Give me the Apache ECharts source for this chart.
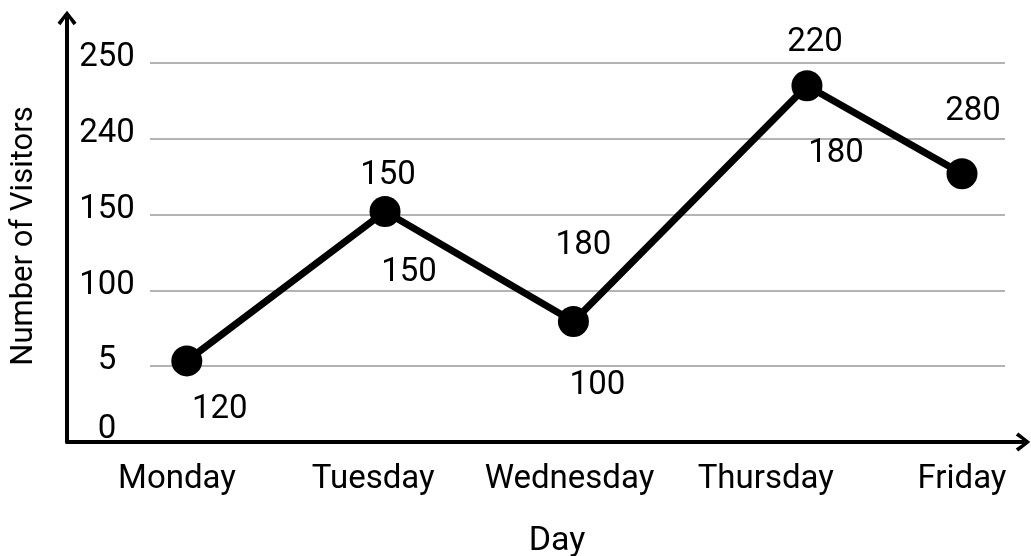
<!DOCTYPE html>
<html><head><meta charset="utf-8">
<script src="https://cdn.jsdelivr.net/npm/echarts@6/dist/echarts.min.js"></script>
<style>html,body{margin:0;padding:0;background:#fff}#c{width:1031px;height:556px}</style>
</head><body><div id="c"></div>
<script>
// ---- data ----
const days = ['Monday', 'Tuesday', 'Wednesday', 'Thursday', 'Friday'];
const yTickLabels = ['0', '5', '100', '150', '240', '250'];
// point positions (x in day-slot units, y in tick-step units)
const pointX = [0.05, 1.06, 2.02, 3.21, 4.0];
const pointY = [1.07, 3.04, 1.59, 4.70, 3.54];
const upperLabels = ['', '150', '180', '220', '280'];
const lowerLabels = ['120', '150', '100', '180', ''];

// ---- layout (pixel offsets of the annotation texts) ----
const upperOffsets = [[0, 0], [3, -36], [10, -76], [8, -43], [11, -62]];
const lowerOffsets = [[33, 49], [24, 61], [24, 64], [29, 68], [0, 0]];

const F = 'Roboto';
const arrow = 'path://M0,12 L9.5,0 L19,12 L16,14.5 L9.5,5 L3,14.5 Z';
const axisLineStyle = {color: '#000', width: 4};

const chart = echarts.init(document.getElementById('c'), null, {renderer: 'canvas'});

const labelSeries = (texts, offsets) => ({
  type: 'scatter', xAxisIndex: 3, yAxisIndex: 2, symbolSize: 1, clip: false, z: 5,
  itemStyle: {color: '#000', opacity: 0},
  data: pointX.map((x, i) => ({value: [x, pointY[i]], label: {offset: offsets[i]}})),
  label: {show: true, position: 'inside', formatter: p => texts[p.dataIndex],
    fontSize: 33, color: '#000', opacity: 1, textBorderWidth: 0, textBorderColor: 'transparent',
    fontFamily: F, align: 'center', verticalAlign: 'middle'},
  emphasis: {disabled: true},
  silent: true
});

chart.setOption({
  animation: false,
  textStyle: {fontFamily: F},
  grid: [
    {left: 67, right: 8, top: 18, bottom: 114},
    {left: 150, right: 26, top: 63, bottom: 114},
    {left: 177, right: 69, top: 63, bottom: 114}
  ],
  xAxis: [
    {gridIndex: 0, type: 'value', min: 0, max: 1,
      axisLine: {show: true, onZero: false, lineStyle: axisLineStyle, symbol: ['none', arrow], symbolSize: [19, 15]},
      axisTick: {show: false}, axisLabel: {show: false}, splitLine: {show: false}},
    {gridIndex: 1, type: 'value', min: 0, max: 1, show: false},
    {gridIndex: 2, type: 'category', data: days, boundaryGap: false,
      axisLine: {show: false}, axisTick: {show: false},
      axisLabel: {fontSize: 33, color: '#000', margin: 21, fontFamily: F, interval: 0}},
    {gridIndex: 2, type: 'value', min: 0, max: 4, show: false, position: 'top'}
  ],
  yAxis: [
    {gridIndex: 0, type: 'value', min: 0, max: 1,
      axisLine: {show: true, onZero: false, lineStyle: axisLineStyle, symbol: ['none', arrow], symbolSize: [19, 15]},
      axisTick: {show: false}, axisLabel: {show: false}, splitLine: {show: false}},
    {gridIndex: 1, type: 'value', min: 0, max: 5, interval: 1,
      axisLine: {show: false}, axisTick: {show: false},
      axisLabel: {formatter: v => {const i = Math.round(v); return i === 0 ? '{z|' + yTickLabels[i] + '}' : yTickLabels[i];},
        align: 'center', margin: 43,
        fontSize: 33, color: '#000', fontFamily: F, padding: [0, 0, 10, 0],
        rich: {z: {fontSize: 33, color: '#000', fontFamily: F, padding: [0, 0, 14, 0]}}},
      splitLine: {show: true, showMinLine: false, lineStyle: {color: '#b3b3b3', width: 2}}},
    {gridIndex: 2, type: 'value', min: 0, max: 5, show: false}
  ],
  graphic: [
    {type: 'text', x: 557, y: 541, style: {text: 'Day', fontSize: 34, fontFamily: F, fill: '#000', align: 'center', verticalAlign: 'middle'}},
    {type: 'text', x: 24, y: 236, rotation: Math.PI / 2,
      style: {text: 'Number of Visitors', fontSize: 31, fontFamily: F, fill: '#000', align: 'center', verticalAlign: 'middle'}}
  ],
  series: [
    {type: 'line', xAxisIndex: 3, yAxisIndex: 2, clip: false, z: 3,
      data: pointX.map((x, i) => [x, pointY[i]]),
      symbol: 'circle', symbolSize: 31, itemStyle: {color: '#000'},
      lineStyle: {color: '#000', width: 7}, label: {show: false}, emphasis: {disabled: true}},
    labelSeries(upperLabels, upperOffsets),
    labelSeries(lowerLabels, lowerOffsets)
  ]
});
</script></body></html>
